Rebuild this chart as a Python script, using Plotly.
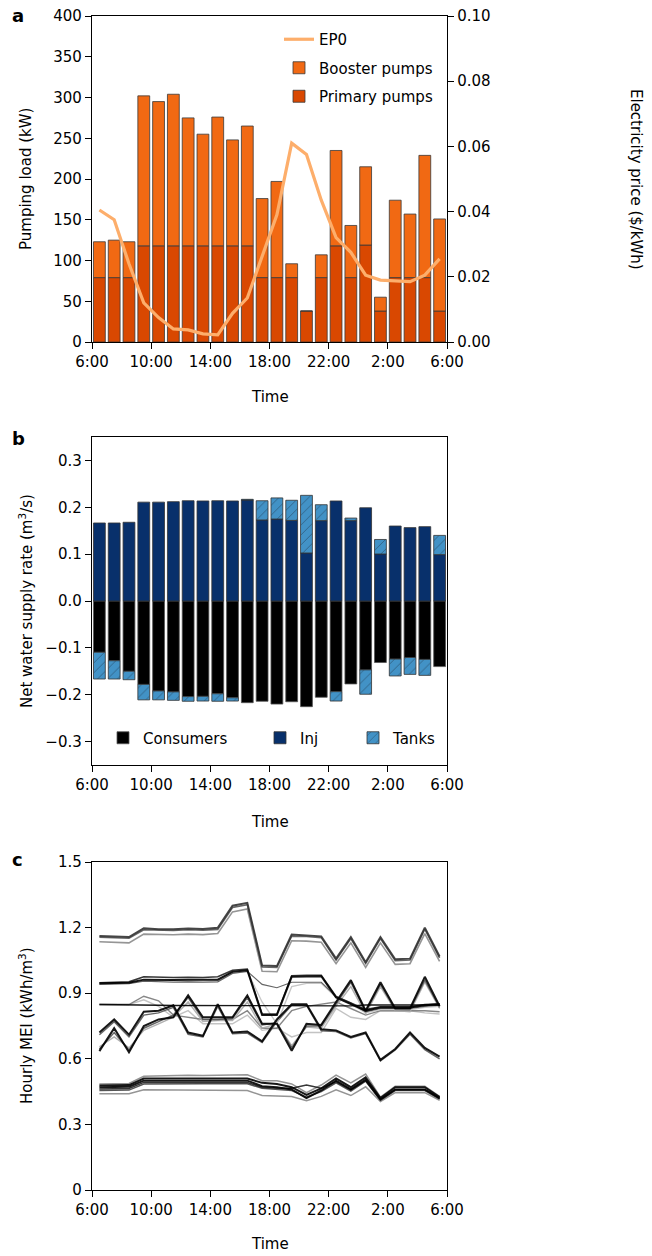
import plotly.graph_objects as go

W, H = 652, 1256

# ---------------- data ----------------
hours = [0.5, 1.5, 2.5, 3.5, 4.5, 5.5, 6.5, 7.5, 8.5, 9.5, 10.5, 11.5,
         12.5, 13.5, 14.5, 15.5, 16.5, 17.5, 18.5, 19.5, 20.5, 21.5, 22.5, 23.5]
tick_vals = [0, 4, 8, 12, 16, 20, 24]
tick_text = ["6:00", "10:00", "14:00", "18:00", "22:00", "2:00", "6:00"]

# panel a: pumping load (kW) and electricity price ($/kWh)
primary_kw = [79, 79, 79, 118, 118, 118, 118, 118, 118, 118, 118, 79,
              79, 79, 38, 79, 118, 79, 119, 38, 79, 79, 79, 38]
booster_kw = [44, 46, 44, 184, 177, 186, 157, 137, 158, 130, 147, 97,
              118, 17, 0, 28, 117, 64, 96, 17, 95, 78, 150, 113]
price_ep0 = [0.0405, 0.0375, 0.024, 0.012, 0.0075, 0.004, 0.0037, 0.0025,
             0.0022, 0.0088, 0.0135, 0.026, 0.039, 0.061, 0.0575, 0.0435,
             0.032, 0.0275, 0.0205, 0.019, 0.0188, 0.0185, 0.0205, 0.0255]

# panel b: net water supply rate (m3/s)
consumers = [-0.1095, -0.1275, -0.150, -0.178, -0.192, -0.194, -0.204, -0.2035,
             -0.198, -0.2065, -0.217, -0.214, -0.220, -0.215, -0.2255, -0.2055,
             -0.1935, -0.177, -0.147, -0.1313, -0.124, -0.1206, -0.1247, -0.140]
inj = [0.1665, 0.1665, 0.168, 0.211, 0.211, 0.212, 0.214, 0.2135, 0.214, 0.2135,
       0.2155, 0.173, 0.175, 0.172, 0.1025, 0.1715, 0.2135, 0.1715, 0.199, 0.1003,
       0.160, 0.1566, 0.1587, 0.099]
tanks = [-0.057, -0.039, -0.018, -0.033, -0.019, -0.018, -0.010, -0.010, -0.016,
         -0.007, 0.0015, 0.041, 0.045, 0.043, 0.123, 0.034, -0.020, 0.0055,
         -0.052, 0.031, -0.036, -0.036, -0.034, 0.041]

# panel c: hourly MEI (kWh/m3), one list per line
mei_a1 = [1.162, 1.160, 1.157, 1.197, 1.193, 1.193, 1.196, 1.194, 1.199, 1.300, 1.313, 1.027,
          1.024, 1.168, 1.165, 1.160, 1.058, 1.156, 1.042, 1.156, 1.055, 1.058, 1.200, 1.068]
mei_a2 = [1.156, 1.154, 1.151, 1.190, 1.187, 1.187, 1.190, 1.188, 1.192, 1.292, 1.305, 1.020,
          1.018, 1.161, 1.159, 1.154, 1.052, 1.150, 1.036, 1.150, 1.049, 1.052, 1.193, 1.062]
mei_a3 = [1.135, 1.133, 1.130, 1.170, 1.167, 1.167, 1.170, 1.168, 1.173, 1.272, 1.285, 1.000,
          0.998, 1.140, 1.138, 1.133, 1.035, 1.130, 1.018, 1.130, 1.032, 1.035, 1.172, 1.045]
mei_b1 = [0.945, 0.946, 0.948, 0.962, 0.960, 0.960, 0.962, 0.961, 0.962, 0.998, 1.005, 0.800,
          0.800, 0.975, 0.978, 0.978, 0.880, 0.850, 0.820, 0.835, 0.835, 0.835, 0.845, 0.850]
mei_b2 = [0.948, 0.950, 0.952, 0.975, 0.972, 0.972, 0.973, 0.972, 0.975, 1.005, 1.010, 0.805,
          0.805, 0.980, 0.982, 0.982, 0.885, 0.855, 0.825, 0.838, 0.838, 0.838, 0.848, 0.852]
mei_b3 = [0.940, 0.942, 0.944, 0.955, 0.952, 0.950, 0.952, 0.950, 0.952, 0.990, 1.000, 0.940,
          0.925, 0.950, 0.950, 0.950, 0.885, 0.855, 0.815, 0.830, 0.830, 0.830, 0.840, 0.845]
mei_b4 = [0.942, 0.944, 0.946, 0.958, 0.955, 0.955, 0.957, 0.955, 0.957, 0.995, 1.000, 0.860,
          0.760, 0.930, 0.945, 0.945, 0.880, 0.850, 0.810, 0.825, 0.825, 0.825, 0.835, 0.840]
mei_f1 = [0.848, 0.848, 0.848, 0.846, 0.845, 0.844, 0.844, 0.843, 0.843, 0.843, 0.843, 0.843,
          0.843, 0.843, 0.843, 0.842, 0.842, 0.842, 0.846, 0.846, 0.846, 0.846, 0.846, 0.846]
mei_f2 = [0.848, 0.848, 0.848, 0.886, 0.865, 0.800, 0.790, 0.780, 0.780, 0.780, 0.820, 0.740,
          0.740, 0.820, 0.840, 0.850, 0.860, 0.830, 0.800, 0.820, 0.820, 0.820, 0.820, 0.815]
mei_f3 = [0.848, 0.848, 0.848, 0.870, 0.840, 0.790, 0.820, 0.760, 0.760, 0.760, 0.800, 0.730,
          0.740, 0.700, 0.720, 0.720, 0.830, 0.790, 0.780, 0.820, 0.820, 0.820, 0.810, 0.805]
mei_p1 = [0.720, 0.780, 0.710, 0.815, 0.820, 0.845, 0.720, 0.705, 0.850, 0.720, 0.725, 0.680,
          0.780, 0.850, 0.850, 0.735, 0.730, 0.700, 0.720, 0.595, 0.645, 0.720, 0.650, 0.610]
mei_p2 = [0.710, 0.770, 0.700, 0.800, 0.810, 0.835, 0.712, 0.700, 0.840, 0.715, 0.718, 0.675,
          0.770, 0.845, 0.845, 0.728, 0.725, 0.695, 0.715, 0.590, 0.640, 0.712, 0.642, 0.600]
mei_q1 = [0.635, 0.740, 0.630, 0.750, 0.780, 0.790, 0.890, 0.790, 0.790, 0.790, 0.890, 0.760,
          0.760, 0.637, 0.760, 0.755, 0.860, 0.960, 0.820, 0.950, 0.830, 0.830, 0.975, 0.840]
mei_q2 = [0.645, 0.720, 0.640, 0.740, 0.770, 0.800, 0.880, 0.780, 0.780, 0.785, 0.880, 0.755,
          0.765, 0.650, 0.750, 0.750, 0.850, 0.950, 0.815, 0.940, 0.825, 0.825, 0.960, 0.835]
mei_q3 = [0.655, 0.700, 0.650, 0.730, 0.760, 0.790, 0.860, 0.770, 0.775, 0.775, 0.860, 0.740,
          0.760, 0.660, 0.745, 0.740, 0.840, 0.930, 0.805, 0.930, 0.820, 0.815, 0.950, 0.830]
mei_l1 = [0.470, 0.470, 0.472, 0.500, 0.500, 0.500, 0.501, 0.500, 0.500, 0.500, 0.500, 0.475,
          0.470, 0.460, 0.420, 0.455, 0.500, 0.460, 0.505, 0.415, 0.460, 0.460, 0.460, 0.420]
mei_l2 = [0.478, 0.478, 0.480, 0.510, 0.510, 0.510, 0.511, 0.510, 0.510, 0.510, 0.510, 0.490,
          0.485, 0.470, 0.435, 0.465, 0.510, 0.470, 0.515, 0.420, 0.470, 0.470, 0.470, 0.425]
mei_l3 = [0.462, 0.462, 0.464, 0.492, 0.492, 0.492, 0.493, 0.492, 0.492, 0.492, 0.492, 0.470,
          0.465, 0.465, 0.480, 0.465, 0.495, 0.458, 0.500, 0.412, 0.458, 0.458, 0.458, 0.418]
mei_l4 = [0.485, 0.485, 0.487, 0.520, 0.522, 0.522, 0.525, 0.524, 0.524, 0.524, 0.527, 0.500,
          0.500, 0.485, 0.445, 0.480, 0.525, 0.490, 0.530, 0.425, 0.475, 0.475, 0.475, 0.428]
mei_l5 = [0.440, 0.440, 0.440, 0.458, 0.458, 0.457, 0.456, 0.456, 0.456, 0.456, 0.455, 0.432,
          0.430, 0.428, 0.408, 0.428, 0.458, 0.432, 0.472, 0.405, 0.445, 0.445, 0.445, 0.410]
mei_l6 = [0.455, 0.455, 0.457, 0.485, 0.486, 0.486, 0.487, 0.486, 0.486, 0.486, 0.486, 0.465,
          0.460, 0.455, 0.425, 0.450, 0.490, 0.452, 0.498, 0.410, 0.455, 0.455, 0.455, 0.416]

# ---------------- helpers (layout only) ----------------
def fx(px):
    return px / W


def fy(py):
    return 1 - py / H


X_DOM = [fx(92), fx(447)]
DOM_A = [fy(342), fy(16)]
DOM_B = [fy(765), fy(437)]
DOM_C = [fy(1190), fy(862)]

BAR_EDGE = dict(color="#3a3a3a", width=0.8)

fig = go.Figure()

# ---- panel a ----
fig.add_trace(go.Bar(x=hours, y=primary_kw, width=0.8, name="Primary pumps",
                     marker=dict(color="#d94801", line=BAR_EDGE),
                     xaxis="x", yaxis="y", legend="legend", legendrank=3,
                     legendgroup="g3"))
fig.add_trace(go.Bar(x=hours, y=booster_kw, width=0.8, name="Booster pumps",
                     marker=dict(color="#f16913", line=BAR_EDGE),
                     xaxis="x", yaxis="y", legend="legend", legendrank=2,
                     legendgroup="g2"))
fig.add_trace(go.Scatter(x=hours, y=price_ep0, mode="lines", name="EP0",
                         line=dict(color="#fdae6b", width=3.2),
                         xaxis="x", yaxis="y2", legend="legend", legendrank=1,
                         legendgroup="g1"))

# ---- panel b ----
fig.add_trace(go.Bar(x=hours, y=consumers, width=0.8, name="Consumers",
                     marker=dict(color="#000000", line=dict(color="#555555", width=0.8)),
                     xaxis="x2", yaxis="y3", legend="legend2"))
fig.add_trace(go.Bar(x=hours, y=inj, width=0.8, name="Inj",
                     marker=dict(color="#08306b", line=dict(color="#333333", width=0.8)),
                     xaxis="x2", yaxis="y3", legend="legend3"))
fig.add_trace(go.Bar(x=hours, y=tanks, width=0.8, name="Tanks",
                     marker=dict(color="#4292c6", line=dict(color="#333333", width=0.8),
                                 pattern=dict(shape="/", fillmode="overlay",
                                              fgcolor="#1b2a3a", size=7, solidity=0.12)),
                     xaxis="x2", yaxis="y3", legend="legend3"))

# ---- panel c ----
mei_lines = [
    (mei_l5, "#8a8a8a", 1.5), (mei_l4, "#8a8a8a", 1.5), (mei_l6, "#444444", 1.5),
    (mei_l3, "#222222", 1.5), (mei_l1, "#000000", 2.0), (mei_l2, "#000000", 2.0),
    (mei_f3, "#bdbdbd", 1.4), (mei_f2, "#7a7a7a", 1.4), (mei_q3, "#aaaaaa", 1.4),
    (mei_q2, "#555555", 1.5), (mei_p2, "#555555", 1.5), (mei_b4, "#c0c0c0", 1.3),
    (mei_b3, "#555555", 1.2), (mei_a3, "#8a8a8a", 1.6), (mei_a2, "#555555", 1.6),
    (mei_a1, "#333333", 2.0), (mei_b2, "#222222", 1.6), (mei_b1, "#000000", 2.0),
    (mei_f1, "#000000", 1.4), (mei_p1, "#000000", 2.0), (mei_q1, "#000000", 2.0),
]
for i, (vals, col, lw) in enumerate(mei_lines):
    fig.add_trace(go.Scatter(x=hours, y=vals, mode="lines", name=f"MEI {i + 1}",
                             line=dict(color=col, width=lw), opacity=0.9,
                             showlegend=False, xaxis="x3", yaxis="y4"))

# ---------------- axes ----------------
ax_common = dict(showline=True, linecolor="black", linewidth=1.4, mirror=True,
                 ticks="outside", ticklen=6, tickwidth=1.2, tickcolor="black",
                 showgrid=False, zeroline=False,
                 tickfont=dict(family="DejaVu Sans", size=15, color="black"))

xcommon = dict(ax_common, domain=X_DOM, range=[0, 24], tickmode="array",
               tickvals=tick_vals, ticktext=tick_text)

fig.update_layout(
    xaxis=dict(xcommon, anchor="y"),
    yaxis=dict(ax_common, domain=DOM_A, range=[0, 400], tickmode="array",
               tickvals=[0, 50, 100, 150, 200, 250, 300, 350, 400], anchor="x"),
    yaxis2=dict(ax_common, overlaying="y", side="right", anchor="x", mirror=False,
                range=[0, 0.10], tickmode="array",
                tickvals=[0, 0.02, 0.04, 0.06, 0.08, 0.10],
                ticktext=["0.00", "0.02", "0.04", "0.06", "0.08", "0.10"]),
    xaxis2=dict(xcommon, anchor="y3"),
    yaxis3=dict(ax_common, domain=DOM_B, range=[-0.35, 0.35], anchor="x2",
                tickmode="array", tickvals=[-0.3, -0.2, -0.1, 0, 0.1, 0.2, 0.3],
                ticktext=["\u22120.3", "\u22120.2", "\u22120.1", "0.0", "0.1", "0.2", "0.3"]),
    xaxis3=dict(xcommon, anchor="y4"),
    yaxis4=dict(ax_common, domain=DOM_C, range=[0, 1.5], anchor="x3",
                tickmode="array", tickvals=[0, 0.3, 0.6, 0.9, 1.2, 1.5],
                ticktext=["0", "0.3", "0.6", "0.9", "1.2", "1.5"]),
)

fig.update_layout(
    width=W, height=H, margin=dict(l=0, r=0, t=0, b=0),
    template="none", paper_bgcolor="white", plot_bgcolor="white",
    font=dict(family="DejaVu Sans", size=15, color="black"),
    barmode="relative",
    legend=dict(x=fx(279), y=fy(23), xanchor="left", yanchor="top",
                bgcolor="rgba(0,0,0,0)", traceorder="grouped", tracegroupgap=6,
                font=dict(size=15)),
    legend2=dict(x=fx(103), y=fy(738), xanchor="left", yanchor="middle",
                 orientation="h", bgcolor="rgba(0,0,0,0)", font=dict(size=15)),
    legend3=dict(x=fx(260), y=fy(738), xanchor="left", yanchor="middle",
                 orientation="h", bgcolor="rgba(0,0,0,0)", entrywidth=48,
                 font=dict(size=15)),
)

# ---------------- text ----------------
ann = []
for letter, py in (("a", 16), ("b", 438), ("c", 859)):
    ann.append(dict(text=f"<b>{letter}</b>", x=fx(10), y=fy(py), xref="paper", yref="paper",
                    xanchor="left", yanchor="middle", showarrow=False,
                    font=dict(size=18, family="DejaVu Sans")))
for txt, py in (("Pumping load (kW)", 179),
                ("Net water supply rate (m<sup>3</sup>/s)", 601),
                ("Hourly MEI (kWh/m<sup>3</sup>)", 1026)):
    ann.append(dict(text=txt, x=fx(26), y=fy(py), xref="paper", yref="paper",
                    xanchor="center", yanchor="middle", textangle=-90, showarrow=False,
                    font=dict(size=15)))
ann.append(dict(text="Electricity price ($/kWh)", x=fx(636), y=fy(179), xref="paper",
                yref="paper", xanchor="center", yanchor="middle", textangle=90,
                showarrow=False, font=dict(size=15)))
for py in (397, 822, 1244):
    ann.append(dict(text="Time", x=fx(269.5), y=fy(py), xref="paper", yref="paper",
                    xanchor="center", yanchor="middle", showarrow=False,
                    font=dict(size=15)))
fig.update_layout(annotations=ann)

fig.write_html("out.html")
